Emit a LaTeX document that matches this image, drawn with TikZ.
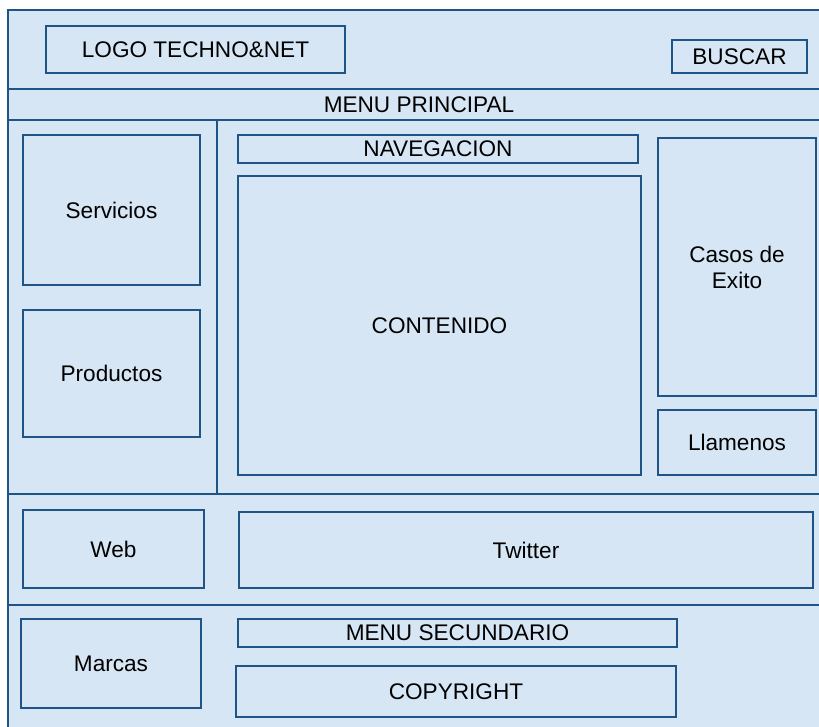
\documentclass[tikz,border=0pt]{standalone}
\usepackage{fontspec}
\setmainfont{Liberation Sans}
\definecolor{boxfill}{RGB}{215,230,245}
\definecolor{boxline}{RGB}{30,84,134}

\begin{document}
\begin{tikzpicture}[x=0.5pt,y=-0.5pt,
  box/.style={rectangle,draw=boxline,fill=boxfill,line width=1pt,anchor=north west,inner sep=0pt,font=\fontsize{11.3}{13}\selectfont},
  frame/.style={draw=boxline,line width=1pt}]

  \useasboundingbox (0,0) rectangle (819,727);
  \clip (0,0) rectangle (819,727);
  \draw[frame,fill=boxfill] (8,10) rectangle (830,740);
  \draw[frame] (8,89) -- (830,89);
  \draw[frame] (8,120) -- (830,120);
  \draw[frame] (217,120) -- (217,494);
  \draw[frame] (8,494) -- (830,494);
  \draw[frame] (8,605) -- (830,605);
  \node[font=\fontsize{11.3}{13}\selectfont] (menup) at (419,104.5) {MENU PRINCIPAL};

  \node[box,minimum width=149.5pt,minimum height=23.5pt] (logo) at (45,25) {LOGO TECHNO\&NET};
  \node[box,minimum width=67.5pt,minimum height=16.5pt] (buscar) at (671,39) {BUSCAR};
  \node[box,minimum width=88.5pt,minimum height=75pt] (servicios) at (22,134) {Servicios};
  \node[box,minimum width=88.5pt,minimum height=63.5pt] (productos) at (22,309) {Productos};
  \node[box,minimum width=200pt,minimum height=14pt] (nav) at (237,134) {NAVEGACION};
  \node[box,minimum width=201.5pt,minimum height=149.5pt] (contenido) at (237,175) {CONTENIDO};
  \node[box,minimum width=79pt,minimum height=129pt,align=center] (casos) at (657,137) {Casos de\\Exito};
  \node[box,minimum width=79pt,minimum height=32.5pt] (llamenos) at (657,409) {Llamenos};
  \node[box,minimum width=90.5pt,minimum height=39pt] (web) at (22,509) {Web};
  \node[box,minimum width=287pt,minimum height=38pt] (twitter) at (238,511) {Twitter};
  \node[box,minimum width=90pt,minimum height=44.5pt] (marcas) at (20,618) {Marcas};
  \node[box,minimum width=219.5pt,minimum height=14pt] (menus) at (237,618) {MENU SECUNDARIO};
  \node[box,minimum width=220pt,minimum height=25.5pt] (copy) at (235,665) {COPYRIGHT};
\end{tikzpicture}
\end{document}
